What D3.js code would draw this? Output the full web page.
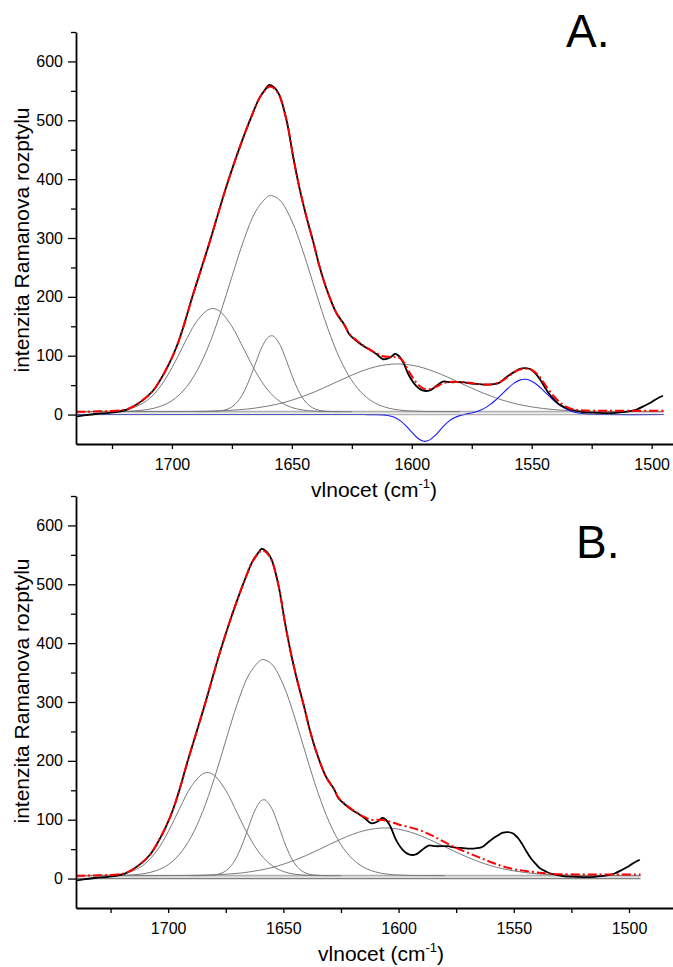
<!DOCTYPE html>
<html><head><meta charset="utf-8">
<script src="https://cdn.jsdelivr.net/npm/d3@7"></script>
<style>
html,body{margin:0;padding:0;background:#fff;}
svg text{font-family:"Liberation Sans",Arial,sans-serif;fill:#000;}
</style></head>
<body><svg id="chart" width="673" height="967"></svg>
<script>
// ---------------- data ----------------
// measured Raman spectrum (wavenumber, intensity) - same in both panels
const spectrum = [[1739.5,-3],[1736,-1],[1732,1],[1726,3],[1722,5],[1719,8],[1716,14],[1712,25],[1708,40],[1705,58],[1701,88],[1698,116],[1695,152],[1691.5,200],[1688,245],[1684.5,290],[1681,338],[1677.5,385],[1674,428],[1670.5,468],[1667,505],[1663.5,538],[1661,553],[1659.5,560],[1658,558],[1656.5,552],[1655,541],[1652,496],[1649.5,439],[1647,388],[1644,337],[1641,292],[1638.5,252],[1635.5,213],[1631.5,173],[1628,152],[1626,136],[1623,125],[1620,116],[1617,109],[1614.5,102],[1612,94],[1609,97],[1607,103],[1605.5,100],[1603.5,88],[1601,65],[1598,48],[1595.5,41],[1592.5,41],[1590,48],[1587,56],[1584,55],[1581,55],[1578.5,55],[1576,53],[1573,52],[1570,51],[1567.5,51],[1565,52],[1563.5,54],[1561,62],[1559,68],[1557,73],[1555,77.6],[1552.5,79],[1550.5,77],[1549.5,74],[1548,68],[1546.5,59.5],[1544.5,46],[1542.5,34],[1540.5,25],[1538.5,17],[1536,12],[1534,8.6],[1531,6],[1528.5,4],[1523,3],[1518,2.5],[1515,3],[1512,4],[1509,5.7],[1506,9],[1503.5,14],[1500.5,20],[1498,26.6],[1495.3,32]];

// fitted envelope (red dash-dot): common part and panel-specific tails
const fitCommon = [[1740,5],[1735,5],[1730,5.5],[1726,6],[1722,7],[1719,9],[1716,14],[1712,25],[1708,40],[1705,58],[1701,88],[1698,116],[1695,152],[1691.5,200],[1688,245],[1684.5,290],[1681,338],[1677.5,385],[1674,428],[1670.5,468],[1667,505],[1663.5,538],[1661,552],[1659.5,557],[1658,556],[1656.5,550],[1655,540],[1652,496],[1649.5,439],[1647,388],[1644,337],[1641,292],[1638.5,252],[1635.5,213],[1631.5,173],[1628,151],[1626,137],[1623,126],[1620,117],[1617,109],[1614.5,104]];
const fitTailA = [[1612,99],[1609,98],[1607,98],[1605,96],[1603.5,90],[1601,72],[1598,54],[1595.5,45],[1593,43],[1590,47],[1587,53],[1584,55.5],[1580,55],[1576,54],[1572,52],[1568,51],[1565,53],[1562,58],[1559,67],[1556,75],[1553,78],[1550,76],[1547,66],[1544,48],[1541,32],[1538,20],[1535,12],[1532,8.5],[1528,7],[1520,6.5],[1510,6.5],[1495,6.5]];
const fitTailB = [[1612,100],[1608,100],[1604,97],[1600,92],[1595,87],[1590,81],[1585,72],[1580,62],[1575,52],[1570,44],[1565,36],[1560,28],[1555,21],[1550,16],[1545,13],[1540,10.5],[1535,8.5],[1530,7.5],[1520,7],[1510,7],[1495,7]];

// gray fitted band components
const band1 = [[1740,5],[1735,5.1],[1730,5.3],[1725,5.9],[1720,8],[1715,13.5],[1710,25.2],[1705,46.8],[1700,79.4],[1695,119.3],[1690,156.4],[1685,177.9],[1682.5,180],[1680,175.4],[1675,149.8],[1670,111.1],[1665,72.1],[1660,41.6],[1655,22.2],[1650,12],[1645,7.4],[1640,5.7],[1635,5.2],[1630,5]];
const band2 = [[1740,5],[1730,5],[1720,5.5],[1715,6.5],[1710,8.7],[1705,13.7],[1700,23.6],[1695,41.7],[1690,71],[1685,113.9],[1680,169.9],[1675,234.2],[1670,296.9],[1665,346.1],[1660,370.6],[1658.5,372],[1655,364.3],[1650,328.9],[1645,272.8],[1640,208],[1635,146.1],[1630,95],[1625,57.6],[1620,33.3],[1615,18.9],[1610,11.3],[1605,7.6],[1600,6],[1595,5.3],[1590,5.1],[1580,5]];
const band3 = [[1690,5],[1685,5.1],[1680,6.2],[1677.5,8.3],[1675,13],[1672.5,22.5],[1670,38.5],[1667.5,61.4],[1665,88.8],[1662.5,114.6],[1660,131],[1658.5,134],[1657.5,132.7],[1655,118.8],[1652.5,94.4],[1650,66.7],[1647.5,42.5],[1645,25.1],[1642.5,14.5],[1640,8.9],[1637.5,6.4],[1635,5.5],[1630,5],[1625,5]];
const band4 = [[1720,5],[1700,5.1],[1690,5.4],[1680,6.4],[1670,8.9],[1665,11.2],[1660,14.4],[1655,18.7],[1650,24.4],[1645,31.3],[1640,39.4],[1635,48.5],[1630,57.9],[1625,67],[1620,75.1],[1615,81.3],[1610,85],[1605,86],[1600,83.9],[1595,79.1],[1590,72],[1585,63.5],[1580,54.1],[1575,44.8],[1570,36.1],[1565,28.4],[1560,21.9],[1555,16.8],[1550,13],[1545,10.2],[1540,8.2],[1535,6.9],[1530,6.1],[1520,5.3],[1510,5.1],[1500,5],[1495,5]];

// blue difference bands (panel A only)
const blueBands = [[1740,0],[1620,0],[1615,-0.1],[1612.5,-0.5],[1610,-1.6],[1607.5,-4.3],[1605,-9.8],[1602.5,-18.7],[1600,-29.9],[1597.5,-40.2],[1595,-45.4],[1592.5,-43],[1590,-34.4],[1587.5,-23],[1585,-12.9],[1582.5,-5.9],[1580,-1.8],[1577.5,0.7],[1575,2.8],[1572.5,5.7],[1570,10.1],[1567.5,16.4],[1565,24.7],[1562.5,34.4],[1560,44.3],[1557.5,53],[1555,58.5],[1552.5,60],[1550,56.8],[1547.5,49.8],[1545,40.4],[1542.5,30.4],[1540,21.1],[1537.5,13.6],[1535,8.1],[1532.5,4.5],[1530,2.3],[1527.5,1.1],[1525,0.5],[1520,0.1],[1495,0]];

// baselines
const baselineRange = [1740, 1495];
const fitBaseline = 5;
const zeroLine = 0;

// axis ticks
const xMajor = [1700, 1650, 1600, 1550, 1500];
const xMinor = [1725, 1675, 1625, 1575, 1525];
const yMajor = [0, 100, 200, 300, 400, 500, 600];
const yMinor = [50, 150, 250, 350, 450, 550, 650];

const yTitle = "intenzita Ramanova rozptylu";
const xTitle = "vlnocet (cm";
const xTitleSup = "-1";
const panelLabels = ["A.", "B."];

// ---------------- drawing ----------------
const svg = d3.select("#chart");

const panels = [
  {label: panelLabels[0], xDom:[1740,1491.1], top:32, bottom:444, fit: fitCommon.concat(fitTailA), blue:true,
   labelX:566, labelY:47, yTitleY:240, xTitleX:374, xTitleY:497},
  {label: panelLabels[1], xDom:[1740,1480.9], top:496, bottom:908, fit: fitCommon.concat(fitTailB), blue:false,
   labelX:576, labelY:558, yTitleY:691, xTitleX:381, xTitleY:961}
];

panels.forEach(p => {
  const x = d3.scaleLinear().domain(p.xDom).range([76, 673]);
  const y = d3.scaleLinear().domain([-50, 650]).range([p.bottom, p.top]);
  const g = svg.append("g");
  const line = d3.line().x(d => x(d[0])).y(d => y(d[1])).curve(d3.curveCatmullRom.alpha(0.5));

  // baselines
  g.append("line").attr("x1", x(baselineRange[0])).attr("x2", x(baselineRange[1]))
    .attr("y1", y(fitBaseline)).attr("y2", y(fitBaseline))
    .attr("stroke", "#b0b0b0").attr("stroke-width", 1.6);

  // gray components
  [band1, band2, band3, band4].forEach(b => {
    g.append("path").datum(b).attr("d", line).attr("fill", "none")
      .attr("stroke", "#7a7a7a").attr("stroke-width", 1);
  });

  if (p.blue) {
    g.append("path").datum(blueBands).attr("d", line).attr("fill", "none")
      .attr("stroke", "#1a1aff").attr("stroke-width", 1.1);
  }
  g.append("line").attr("x1", x(baselineRange[0])).attr("x2", x(baselineRange[1]))
    .attr("y1", y(zeroLine)).attr("y2", y(zeroLine))
    .attr("stroke", "#808080").attr("stroke-width", 1.5).attr("stroke-opacity", p.blue ? 0.6 : 1);

  // measured spectrum
  g.append("path").datum(spectrum).attr("d", line).attr("fill", "none")
    .attr("stroke", "#000").attr("stroke-width", 1.8).attr("stroke-linejoin", "round");

  // fit
  g.append("path").datum(p.fit).attr("d", line).attr("fill", "none")
    .attr("stroke", "#ff0000").attr("stroke-width", 2)
    .attr("stroke-dasharray", "9,3,2,3");

  // axes
  g.append("g").attr("transform", `translate(0,${p.bottom})`)
    .call(d3.axisBottom(x).tickValues(xMajor).tickSize(5).tickSizeOuter(0).tickPadding(10).tickFormat(d3.format("d")));
  g.append("g").attr("transform", `translate(0,${p.bottom})`)
    .call(d3.axisBottom(x).tickValues(xMinor).tickSize(5).tickSizeOuter(0).tickFormat(""))
    .select(".domain").remove();
  g.append("g").attr("transform", `translate(76,0)`)
    .call(d3.axisLeft(y).tickValues(yMajor).tickSize(8).tickSizeOuter(0).tickPadding(5).tickFormat(d3.format("d")));
  g.append("g").attr("transform", `translate(76,0)`)
    .call(d3.axisLeft(y).tickValues(yMinor).tickSize(5).tickSizeOuter(0).tickFormat(""))
    .select(".domain").remove();

  g.selectAll(".domain").attr("stroke", "#000").attr("stroke-width", 1.8);
  g.selectAll(".tick line").attr("stroke", "#000").attr("stroke-width", 1.3);
  g.selectAll(".tick text").attr("font-size", "16px").attr("font-family", "Liberation Sans, Arial, sans-serif").attr("fill", "#111");

  // y title
  g.append("text").attr("transform", `translate(28.5,${p.yTitleY}) rotate(-90)`)
    .attr("text-anchor", "middle").attr("font-size", "21px").text(yTitle);

  // x title
  const xt = g.append("text").attr("x", p.xTitleX).attr("y", p.xTitleY)
    .attr("text-anchor", "middle").attr("font-size", "21px");
  xt.append("tspan").text(xTitle);
  xt.append("tspan").attr("font-size", "13px").attr("dy", -9).text(xTitleSup);
  xt.append("tspan").attr("dy", 9).text(")");

  // panel label
  g.append("text").attr("x", p.labelX).attr("y", p.labelY)
    .attr("font-size", "46px").text(p.label);
});
</script>
</body></html>
